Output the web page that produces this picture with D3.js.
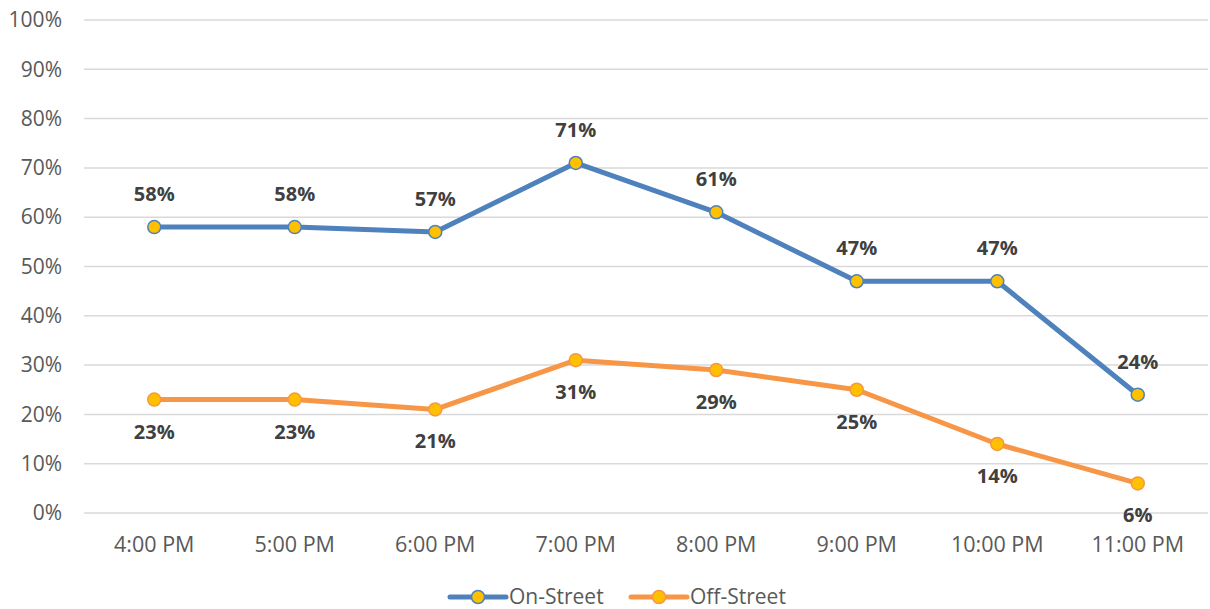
<!DOCTYPE html>
<html>
<head>
<meta charset="utf-8">
<script src="https://cdn.jsdelivr.net/npm/d3@7"></script>
<style>
  html, body { margin: 0; padding: 0; background: #fff; }
  svg { display: block; font-family: "Open Sans", "Noto Sans", sans-serif; }
</style>
</head>
<body>
<svg id="chart" width="1210" height="609"></svg>
<script>
// Hourly occupancy by parking type
const hours = ["4:00 PM", "5:00 PM", "6:00 PM", "7:00 PM", "8:00 PM", "9:00 PM", "10:00 PM", "11:00 PM"];
const onStreet = [0.58, 0.58, 0.57, 0.71, 0.61, 0.47, 0.47, 0.24];
const offStreet = [0.23, 0.23, 0.21, 0.31, 0.29, 0.25, 0.14, 0.06];
const yTicks = [0, 0.1, 0.2, 0.3, 0.4, 0.5, 0.6, 0.7, 0.8, 0.9, 1.0];

const seriesList = [
  { name: "On-Street", values: onStreet, color: "#4F81BD", labelDy: -33 },
  { name: "Off-Street", values: offStreet, color: "#F79646", labelDy: 32 }
];

const svg = d3.select("#chart");
const plot = { left: 84, right: 1208, top: 20, bottom: 513 };

const x = d3.scaleBand().domain(hours).range([plot.left, plot.right]).padding(0);
const y = d3.scaleLinear().domain([0, 1]).range([plot.bottom, plot.top]);
const pct = d3.format(".0%");

// Horizontal gridlines
svg.append("g")
  .selectAll("line")
  .data(yTicks)
  .join("line")
  .attr("x1", plot.left).attr("x2", plot.right)
  .attr("y1", d => y(d)).attr("y2", d => y(d))
  .attr("stroke", "#D9D9D9")
  .attr("stroke-width", 1.5);

// Y axis labels
const yAxis = d3.axisLeft(y).tickValues(yTicks).tickFormat(pct).tickSize(0).tickPadding(22);
const yg = svg.append("g").attr("transform", `translate(${plot.left},0)`).call(yAxis);
yg.select(".domain").remove();
yg.selectAll("text").attr("font-size", 21).attr("fill", "#595959")
  .attr("font-family", "'Open Sans', 'Noto Sans', sans-serif");

// X axis labels
const xAxis = d3.axisBottom(x).tickSize(0).tickPadding(24);
const xg = svg.append("g").attr("transform", `translate(0,${plot.bottom})`).call(xAxis);
xg.select(".domain").remove();
xg.selectAll("text").attr("font-size", 21.5).attr("fill", "#595959")
  .attr("font-family", "'Open Sans', 'Noto Sans', sans-serif");

const cx = d => x(d) + x.bandwidth() / 2;
const line = d3.line().x((d, i) => cx(hours[i])).y(d => y(d));

seriesList.forEach(s => {
  const g = svg.append("g");
  g.append("path")
    .datum(s.values)
    .attr("d", line)
    .attr("fill", "none")
    .attr("stroke", s.color)
    .attr("stroke-width", 5)
    .attr("stroke-linejoin", "round");
  g.selectAll("circle")
    .data(s.values)
    .join("circle")
    .attr("cx", (d, i) => cx(hours[i]))
    .attr("cy", d => y(d))
    .attr("r", 6.5)
    .attr("fill", "#FFC000")
    .attr("stroke", s.color)
    .attr("stroke-width", 1.5);
  g.selectAll("text")
    .data(s.values)
    .join("text")
    .attr("x", (d, i) => cx(hours[i]))
    .attr("y", d => y(d) + s.labelDy)
    .attr("dy", "0.35em")
    .attr("text-anchor", "middle")
    .attr("font-size", 20)
    .attr("font-weight", "bold")
    .attr("fill", "#404040")
    .text(d => pct(d));
});

// Legend
const legend = svg.append("g");
const legendItems = [
  { s: seriesList[0], x0: 450 },
  { s: seriesList[1], x0: 631 }
];
legendItems.forEach(({ s, x0 }) => {
  const ly = 597;
  legend.append("line")
    .attr("x1", x0).attr("x2", x0 + 56)
    .attr("y1", ly).attr("y2", ly)
    .attr("stroke", s.color).attr("stroke-width", 5).attr("stroke-linecap", "round");
  legend.append("circle")
    .attr("cx", x0 + 28).attr("cy", ly).attr("r", 6.5)
    .attr("fill", "#FFC000").attr("stroke", s.color).attr("stroke-width", 1.5);
  legend.append("text")
    .attr("x", x0 + 59).attr("y", ly).attr("dy", "0.35em")
    .attr("font-size", 21).attr("fill", "#595959")
    .text(s.name);
});
</script>
</body>
</html>
